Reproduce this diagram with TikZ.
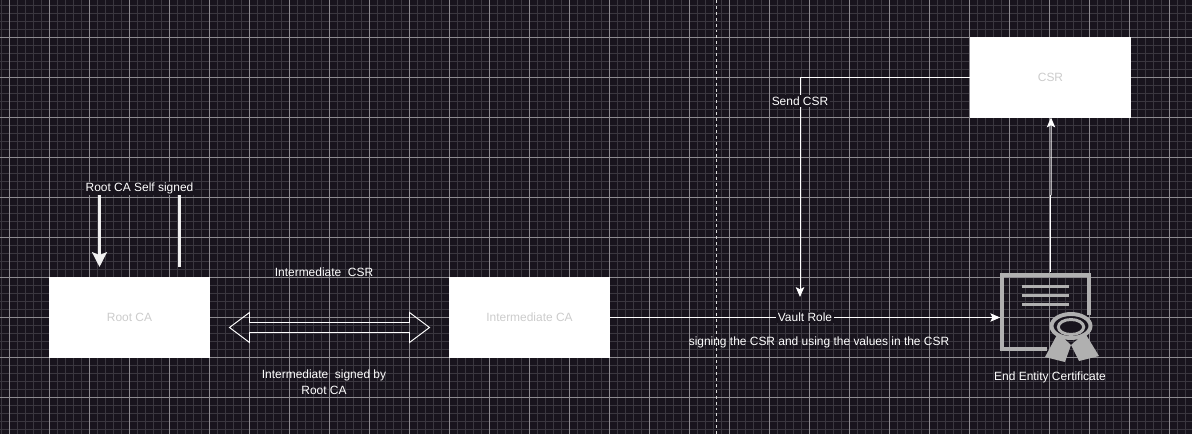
\documentclass[tikz,border=0pt]{standalone}
\usepackage{fontspec}
\setmainfont{Liberation Sans}
\usetikzlibrary{arrows.meta}
\definecolor{canvas}{HTML}{18141D}
\definecolor{gridminor}{HTML}{3A373F}
\definecolor{gridmajor}{HTML}{8E8C91}
\definecolor{boxtext}{HTML}{CCCCCC}
\definecolor{icongray}{HTML}{B0B0B0}
\tikzset{
  lbl/.style={text=white,font=\fontsize{8.5}{11.4}\selectfont,inner sep=1pt,align=center},
  edgelbl/.style={lbl,fill=canvas},
  whitebox/.style={draw=white,fill=white,minimum width=4cm,minimum height=2cm,inner sep=0pt,text=boxtext,font=\fontsize{8.5}{12}\selectfont},
  flowline/.style={draw=white,line width=0.7pt,-{Stealth[length=7pt,width=6pt,inset=1.5pt]}},
  thickline/.style={draw=white!94!black,line width=2.1pt},
  iconline/.style={draw=icongray,line width=2.8pt},
}
\begin{document}
\begin{tikzpicture}[x=0.025cm,y=-0.025cm]
\useasboundingbox (0,0) rectangle (1192,434);
\fill[canvas] (0,0) rectangle (1192,434);
%grid
\foreach \gx in {1.5,9.5,...,1192} {\draw[gridminor,line width=1pt] (\gx,0)--(\gx,434);}
\foreach \gy in {5.5,13.5,...,434} {\draw[gridminor,line width=1pt] (0,\gy)--(1192,\gy);}
\foreach \gx in {9.5,49.5,...,1192} {\draw[gridmajor,line width=0.7pt] (\gx,0)--(\gx,434);}
\foreach \gy in {37.5,77.5,...,434} {\draw[gridmajor,line width=0.7pt] (0,\gy)--(1192,\gy);}
\draw[white!85!black,line width=0.7pt,dash pattern=on 2.1pt off 2.1pt] (716.5,0)--(716.5,434);
%boxes
\node[whitebox] (rootca) at (129.5,317.5) {Root CA};
\node[whitebox] (interca) at (529.5,317.5) {Intermediate CA};
\node[whitebox] (csr) at (1050.5,77.5) {CSR};
\node[minimum width=2.5cm,minimum height=2cm,inner sep=0pt] (cert) at (1050.5,312) {};
%certificate icon
\draw[iconline] (1089,315)--(1089,275)--(1002,275)--(1002,349)--(1047,349);
\foreach \ly in {286.5,295.5,304.5} {\draw[iconline] (1022,\ly)--(1069,\ly);}
\fill[icongray] (1045,357)--(1058,333)--(1071,345)--(1065,362)--cycle;
\fill[icongray] (1071,345)--(1085,333)--(1099,356)--(1079,361)--cycle;
\draw[icongray,line width=2.8pt,fill=canvas] (1071,326) ellipse (19.5 and 12);
\draw[icongray,line width=2.1pt] (1071,327) ellipse (12.7 and 7.5);
%arrows and lines
\coordinate (selfa) at (99.5,195);
\coordinate (selfb) at (179.5,195);
\draw[thickline,-{Stealth[length=10.5pt,width=10.5pt,inset=2pt]}] (selfa)--(selfa |- 0,267);
\draw[thickline] (selfb)--(selfb |- 0,267);
\draw[white,line width=0.7pt] (229.5,327.5)--(249.5,312.5)--(249.5,322.5)--(409.5,322.5)--(409.5,312.5)--(429.5,327.5)--(409.5,342.5)--(409.5,332.5)--(249.5,332.5)--(249.5,342.5)--cycle;
\draw[flowline] (interca.east)--(interca.east -| cert.west)node[edgelbl,midway]{Vault Role};
\coordinate (bendcsr) at (800,77.5);
\draw[line width=0.7pt,white] (csr.west)--(bendcsr);
\draw[flowline] (bendcsr)--(800,297)node[edgelbl,pos=0.107]{Send CSR};
\coordinate (bendcert) at (1050.5,195);
\draw[line width=0.7pt,white] (cert.north)--(bendcert);
\draw[flowline] (bendcert)--++(0.5,0)--(1051,117.5);
%labels
\node[edgelbl] (selflbl) at (139.5,188.5) {Root CA Self signed};
\node[lbl] (csrlbl) at (324,272.5) {Intermediate\ \ CSR};
\node[lbl] (signedlbl) at (324,382) {Intermediate\ \ signed by\\Root CA};
\node[lbl] (rolelbl) at (819,342.5) {signing the CSR and using the values in the CSR};
\node[lbl] (certlbl) at (1050,377) {End Entity Certificate};
\end{tikzpicture}
\end{document}
